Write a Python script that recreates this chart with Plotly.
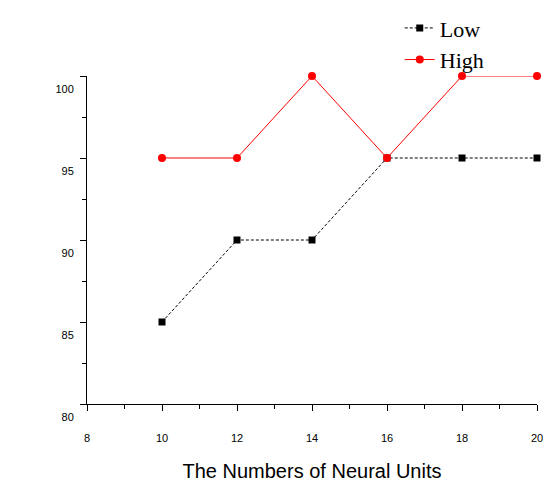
import plotly.graph_objects as go

units = [10, 12, 14, 16, 18, 20]
low = [85, 90, 90, 95, 95, 95]
high = [95, 95, 100, 95, 100, 100]
x_ticks = [8, 10, 12, 14, 16, 18, 20]
y_ticks = [80, 85, 90, 95, 100]

fig = go.Figure()
fig.add_trace(go.Scatter(
    x=units, y=low, name="Low", mode="lines+markers",
    line=dict(color="black", width=1, dash="3px,2px"),
    marker=dict(symbol="square", size=7, color="black"),
    cliponaxis=False))
fig.add_trace(go.Scatter(
    x=units, y=high, name="High", mode="lines+markers",
    line=dict(color="#ff0000", width=1),
    marker=dict(symbol="circle", size=8, color="#ff0000"),
    cliponaxis=False))

fig.update_layout(
    width=545, height=493,
    margin=dict(l=87, r=8, t=76, b=89, autoexpand=False),
    plot_bgcolor="white", paper_bgcolor="white",
    font=dict(family="Liberation Sans", color="black"),
    legend=dict(x=0.695, y=1.21, xanchor="left", yanchor="top",
                font=dict(family="Liberation Serif", size=22, color="black"),
                bgcolor="rgba(0,0,0,0)", itemwidth=30, tracegroupgap=0),
    xaxis=dict(range=[8, 20], tickvals=x_ticks, ticktext=[str(v) for v in x_ticks],
               showline=True, linecolor="black", linewidth=1, showgrid=False, zeroline=False,
               ticks="outside", ticklen=6, tickcolor="black",
               tickfont=dict(size=11, color="black"),
               ticklabelstandoff=18, automargin=False,
               minor=dict(dtick=1, ticks="outside", ticklen=4, tickcolor="black", showgrid=False),
               title=dict(text="The Numbers of Neural Units",
                          font=dict(size=20, color="black"), standoff=20)),
    yaxis=dict(range=[80, 100], tickvals=y_ticks, ticktext=[str(v) for v in y_ticks],
               showline=True, linecolor="black", linewidth=1, showgrid=False, zeroline=False,
               ticks="outside", ticklen=6, tickcolor="black",
               tickfont=dict(size=11, color="black"),
               ticklabelstandoff=4, ticklabelshift=13, automargin=False,
               minor=dict(dtick=2.5, ticks="outside", ticklen=4, tickcolor="black", showgrid=False)),
)
fig.write_html("out.html")
